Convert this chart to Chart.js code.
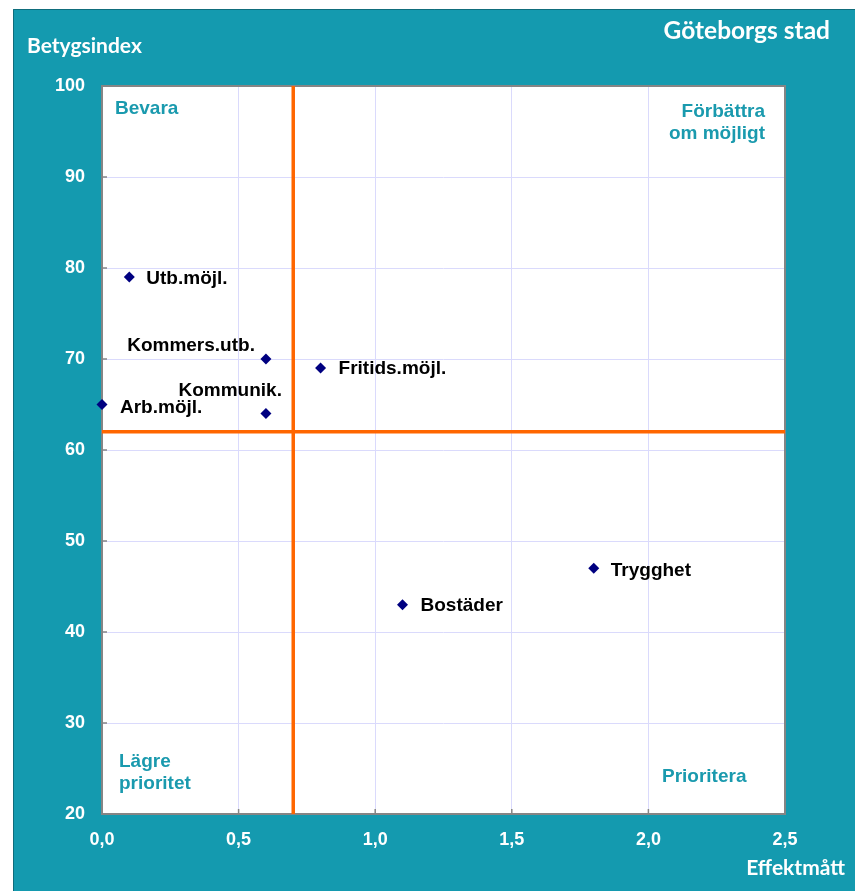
<!DOCTYPE html>
<html><head><meta charset="utf-8">
<script src="https://cdn.jsdelivr.net/npm/chart.js@4"></script>
<style>html,body{margin:0;padding:0;background:#fff;} canvas{display:block;}</style>
</head><body>
<canvas id="c" width="855" height="891"></canvas>
<script>
// ---- data ----
const chartTitle = 'Göteborgs stad';
const yAxisTitle = 'Betygsindex';
const xAxisTitle = 'Effektmått';
const categories = ['Utb.möjl.', 'Kommers.utb.', 'Fritids.möjl.', 'Arb.möjl.', 'Kommunik.', 'Bostäder', 'Trygghet'];
const effektValues = [0.1, 0.6, 0.8, 0.0, 0.6, 1.1, 1.8];
const indexValues = [79, 70, 69, 65, 64, 43, 47];
const xTickValues = [0, 0.5, 1.0, 1.5, 2.0, 2.5];
const yTickValues = [20, 30, 40, 50, 60, 70, 80, 90, 100];
const effektThreshold = 0.7;
const indexThreshold = 62;
const quadrantTopLeft = ['Bevara'];
const quadrantTopRight = ['Förbättra', 'om möjligt'];
const quadrantBottomLeft = ['Lägre', 'prioritet'];
const quadrantBottomRight = ['Prioritera'];

// ---- styles ----
const TEAL = '#149aaf';
const QTEAL = '#1a9aae';
const ORANGE = '#ff6600';
const GRID = '#dadafc';
const FRAME = '#858585';
const ARIAL = '"Liberation Sans", Arial, sans-serif';
const CAL = 'Lato, "Open Sans", sans-serif';
// label placement per category: [align, dx, dy]
const labelPlacement = [
  ['left', 17, 2], ['right', -11, -13], ['left', 18, 1], ['left', 18, 3],
  ['right', 16, -23], ['left', 18, 1], ['left', 17, 2]
];

const fmt = v => v.toFixed(1).replace('.', ',');

const decor = {
  id: 'decor',
  beforeDraw(chart) {
    const ctx = chart.ctx, a = chart.chartArea;
    ctx.save();
    ctx.fillStyle = '#fff';
    ctx.fillRect(0, 0, chart.width, chart.height);
    ctx.fillStyle = TEAL;
    ctx.fillRect(13, 9, chart.width - 13, chart.height - 9);
    ctx.strokeStyle = '#0f6d7c';
    ctx.lineWidth = 1;
    ctx.beginPath();
    ctx.moveTo(13.5, chart.height); ctx.lineTo(13.5, 9.5); ctx.lineTo(chart.width, 9.5);
    ctx.stroke();
    ctx.fillStyle = '#fff';
    ctx.fillRect(a.left, a.top, a.right - a.left, a.bottom - a.top);
    ctx.restore();
  },
  beforeDatasetsDraw(chart) {
    const ctx = chart.ctx, a = chart.chartArea;
    const xs = chart.scales.x, ys = chart.scales.y;
    ctx.save();
    ctx.strokeStyle = FRAME;
    ctx.lineWidth = 2;
    ctx.strokeRect(a.left, a.top, a.right - a.left, a.bottom - a.top);
    ctx.lineWidth = 1.5;
    ctx.beginPath();
    xTickValues.forEach(v => { const px = xs.getPixelForValue(v); ctx.moveTo(px, a.bottom); ctx.lineTo(px, a.bottom - 5); });
    yTickValues.forEach(v => { const py = ys.getPixelForValue(v); ctx.moveTo(a.left, py); ctx.lineTo(a.left + 5, py); });
    ctx.stroke();
    ctx.restore();
  },
  afterDatasetsDraw(chart) {
    const ctx = chart.ctx;
    const meta = chart.getDatasetMeta(0);
    ctx.save();
    ctx.font = 'bold 19px ' + ARIAL;
    ctx.fillStyle = '#000';
    ctx.textBaseline = 'middle';
    categories.forEach((name, i) => {
      const pt = meta.data[i];
      const [al, dx, dy] = labelPlacement[i];
      ctx.textAlign = al;
      ctx.fillText(name, pt.x + dx, pt.y + dy);
    });
    ctx.restore();
  },
  afterDraw(chart) {
    const ctx = chart.ctx, a = chart.chartArea;
    ctx.save();
    // titles
    ctx.fillStyle = '#fff';
    ctx.textBaseline = 'alphabetic';
    ctx.font = 'bold 24.5px ' + CAL;
    ctx.textAlign = 'right';
    ctx.fillText(chartTitle, 830, 39);
    ctx.font = 'bold 21px ' + CAL;
    ctx.textAlign = 'left';
    ctx.fillText(yAxisTitle, 27, 53);
    ctx.textAlign = 'right';
    ctx.fillText(xAxisTitle, 845, 875);
    // quadrant labels
    ctx.fillStyle = QTEAL;
    ctx.font = 'bold 19px ' + ARIAL;
    ctx.textBaseline = 'middle';
    ctx.textAlign = 'left';
    quadrantTopLeft.forEach((t, i) => ctx.fillText(t, a.left + 13, a.top + 23 + i * 22));
    quadrantBottomLeft.forEach((t, i) => ctx.fillText(t, a.left + 17, a.bottom - 52 + i * 22));
    ctx.fillText(quadrantBottomRight[0], a.right - 123, a.bottom - 37);
    ctx.textAlign = 'right';
    quadrantTopRight.forEach((t, i) => ctx.fillText(t, a.right - 20, a.top + 26 + i * 22));
    ctx.restore();
  }
};

new Chart(document.getElementById('c'), {
  type: 'scatter',
  data: {
    datasets: [
      {
        label: 'Punkter',
        data: categories.map((c, i) => ({ x: effektValues[i], y: indexValues[i] })),
        pointStyle: 'rectRot',
        pointRadius: 5.5,
        pointHoverRadius: 5.5,
        backgroundColor: '#000080',
        borderColor: '#000080',
        borderWidth: 0,
        clip: false,
        order: 0
      },
      {
        label: 'Effektgräns',
        data: [{ x: effektThreshold, y: yTickValues[0] }, { x: effektThreshold, y: yTickValues[yTickValues.length - 1] }],
        showLine: true, borderColor: ORANGE, borderWidth: 3.5, pointRadius: 0, order: 1
      },
      {
        label: 'Indexgräns',
        data: [{ x: xTickValues[0], y: indexThreshold }, { x: xTickValues[xTickValues.length - 1], y: indexThreshold }],
        showLine: true, borderColor: ORANGE, borderWidth: 3.5, pointRadius: 0, order: 1
      }
    ]
  },
  options: {
    responsive: false,
    animation: false,
    devicePixelRatio: 1,
    layout: { padding: { left: 0, top: 86, right: 70, bottom: 0 } },
    plugins: { legend: { display: false }, tooltip: { enabled: false }, title: { display: false } },
    scales: {
      x: {
        type: 'linear',
        min: xTickValues[0], max: xTickValues[xTickValues.length - 1],
        afterBuildTicks: s => { s.ticks = xTickValues.map(v => ({ value: v })); },
        afterFit: s => { s.height = 77; },
        grid: { color: GRID, lineWidth: 1, drawTicks: false },
        border: { display: false },
        ticks: { color: '#fff', padding: 15, font: { family: ARIAL, weight: 'bold', size: 18 }, callback: v => fmt(v), maxRotation: 0 }
      },
      y: {
        type: 'linear',
        min: yTickValues[0], max: yTickValues[yTickValues.length - 1],
        afterBuildTicks: s => { s.ticks = yTickValues.map(v => ({ value: v })); },
        afterFit: s => { s.width = 102; },
        grid: { color: GRID, lineWidth: 1, drawTicks: false },
        border: { display: false },
        ticks: { color: '#fff', padding: 17, font: { family: ARIAL, weight: 'bold', size: 18 }, callback: v => String(v) }
      }
    }
  },
  plugins: [decor]
});
</script>
</body></html>
